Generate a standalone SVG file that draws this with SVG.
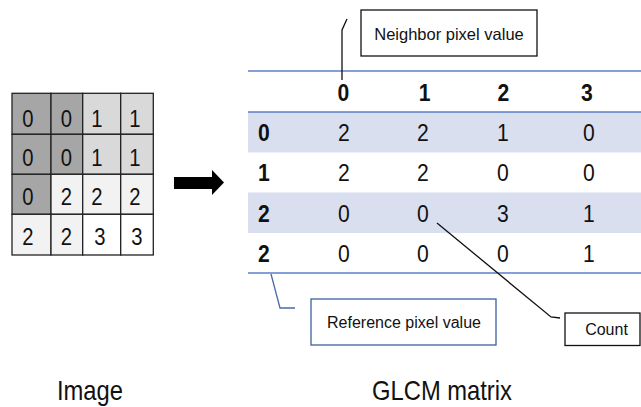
<svg xmlns="http://www.w3.org/2000/svg" width="641" height="407" viewBox="0 0 641 407">
<style>
text{font-family:"Liberation Sans",Arial,sans-serif;fill:#111}
.g{font-size:23px;text-anchor:middle}
.n{font-size:24px;text-anchor:middle}
.b{font-size:24px;font-weight:bold;text-anchor:middle}
.lbl{font-size:16px;text-anchor:middle}
.cap{font-size:27px;text-anchor:middle}
.cell{stroke:#222;stroke-width:1.3}
.bl{stroke:#5b7fc7;stroke-width:1.3;fill:none}
.lead{fill:none;stroke:#111;stroke-width:1.3}
</style>
<rect width="641" height="407" fill="#fff"/>
<g id="image-grid">
<rect class="cell" x="12" y="93.3" width="39" height="41" fill="#a6a6a6"/>
<rect class="cell" x="51" y="93.3" width="31.7" height="41" fill="#a6a6a6"/>
<rect class="cell" x="82.7" y="93.3" width="38" height="41" fill="#d9d9d9"/>
<rect class="cell" x="120.7" y="93.3" width="32.6" height="41" fill="#d9d9d9"/>
<rect class="cell" x="12" y="134.3" width="39" height="40" fill="#a6a6a6"/>
<rect class="cell" x="51" y="134.3" width="31.7" height="40" fill="#a6a6a6"/>
<rect class="cell" x="82.7" y="134.3" width="38" height="40" fill="#d9d9d9"/>
<rect class="cell" x="120.7" y="134.3" width="32.6" height="40" fill="#d9d9d9"/>
<rect class="cell" x="12" y="174.3" width="39" height="40" fill="#a6a6a6"/>
<rect class="cell" x="51" y="174.3" width="31.7" height="40" fill="#f2f2f2"/>
<rect class="cell" x="82.7" y="174.3" width="38" height="40" fill="#f2f2f2"/>
<rect class="cell" x="120.7" y="174.3" width="32.6" height="40" fill="#f2f2f2"/>
<rect class="cell" x="12" y="214.3" width="39" height="40.7" fill="#f2f2f2"/>
<rect class="cell" x="51" y="214.3" width="31.7" height="40.7" fill="#f2f2f2"/>
<rect class="cell" x="82.7" y="214.3" width="38" height="40.7" fill="#fff"/>
<rect class="cell" x="120.7" y="214.3" width="32.6" height="40.7" fill="#fff"/>
<g transform="scale(0.88,1)">
<text class="g" x="31.82" y="127">0</text><text class="g" x="75.57" y="127">0</text><text class="g" x="110.23" y="127">1</text><text class="g" x="153.41" y="127">1</text>
<text class="g" x="31.82" y="166">0</text><text class="g" x="75.57" y="166">0</text><text class="g" x="110.23" y="166">1</text><text class="g" x="153.41" y="166">1</text>
<text class="g" x="31.82" y="205">0</text><text class="g" x="75.57" y="205">2</text><text class="g" x="110.23" y="205">2</text><text class="g" x="153.41" y="205">2</text>
<text class="g" x="31.82" y="245">2</text><text class="g" x="75.57" y="245">2</text><text class="g" x="113.64" y="245">3</text><text class="g" x="155.68" y="245">3</text>
</g>
</g>
<g id="arrow">
<polygon points="174,177 212,177 212,170 224,182.5 212,195 212,189 174,189" fill="#000"/>
</g>
<g id="glcm-matrix">
<rect x="248" y="112" width="393" height="40.5" fill="#d9dfef"/>
<rect x="248" y="192.5" width="393" height="40.5" fill="#d9dfef"/>
<line class="bl" x1="248" y1="71" x2="641" y2="71"/>
<line class="bl" x1="248" y1="112" x2="641" y2="112"/>
<line class="bl" x1="248" y1="273" x2="641" y2="273"/>
<g transform="scale(0.88,1)">
<text class="b" x="390.34" y="101">0</text><text class="b" x="482.39" y="101">1</text><text class="b" x="572.16" y="101">2</text><text class="b" x="667.05" y="101">3</text>
<text class="b" x="300" y="141">0</text><text class="n" x="390.91" y="141">2</text><text class="n" x="480.68" y="141">2</text><text class="n" x="571.59" y="141">1</text><text class="n" x="669.32" y="141">0</text>
<text class="b" x="300" y="181">1</text><text class="n" x="390.91" y="181">2</text><text class="n" x="480.68" y="181">2</text><text class="n" x="571.59" y="181">0</text><text class="n" x="669.32" y="181">0</text>
<text class="b" x="300" y="222">2</text><text class="n" x="390.91" y="222">0</text><text class="n" x="480.68" y="222">0</text><text class="n" x="571.59" y="222">3</text><text class="n" x="669.32" y="222">1</text>
<text class="b" x="300" y="262">2</text><text class="n" x="390.91" y="262">0</text><text class="n" x="480.68" y="262">0</text><text class="n" x="571.59" y="262">0</text><text class="n" x="669.32" y="262">1</text>
</g>
</g>
<g id="neighbor-label">
<rect x="361" y="10" width="176" height="46" fill="#fff" stroke="#111" stroke-width="1.3"/>
<text class="lbl" x="449" y="40" style="font-size:16.5px">Neighbor pixel value</text>
</g>
<g id="reference-label">
<rect x="311" y="299" width="185" height="46" fill="#fff" stroke="#3f5fa0" stroke-width="1.3"/>
<text class="lbl" x="404" y="328">Reference pixel value</text>
</g>
<g id="count-label">
<rect x="565" y="313" width="75" height="32.5" fill="#fff" stroke="#111" stroke-width="1.3"/>
<text class="lbl" x="606.5" y="335">Count</text>
</g>
<g id="connectors">
<polyline class="lead" points="347,19 342,30 342,80"/>
<polyline class="lead" points="271,274 280,308 295,308" style="stroke:#4a6aa8"/>
<polyline class="lead" points="437,223 551,317 560,318"/>
</g>
<g id="captions" transform="scale(0.88,1)">
<text class="cap" x="102.27" y="400">Image</text>
<text class="cap" x="502.27" y="400">GLCM matrix</text>
</g>
</svg>
